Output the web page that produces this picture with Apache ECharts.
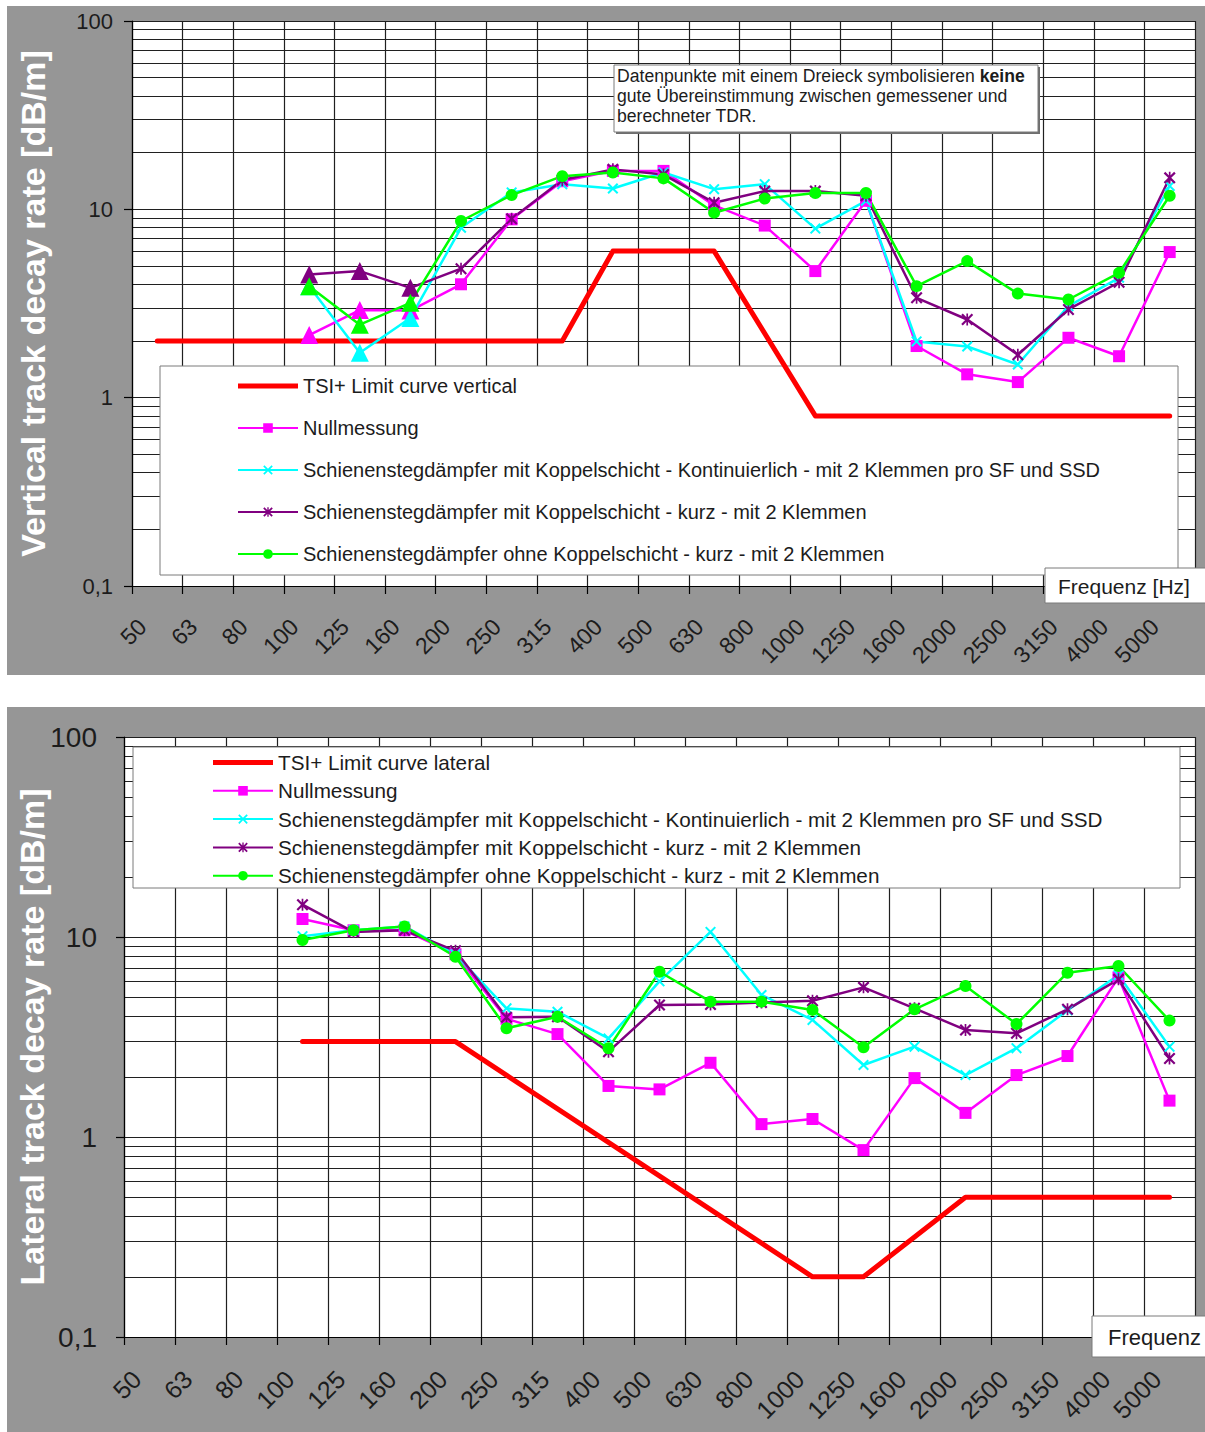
<!DOCTYPE html>
<html>
<head>
<meta charset="utf-8">
<title>Track decay rate</title>
<script src="https://cdn.jsdelivr.net/npm/echarts@6/dist/echarts.min.js"></script>
<style>
  html, body { margin: 0; padding: 0; background: #fff; width: 1205px; height: 1432px; overflow: hidden; }
  .panel { position: absolute; background: #969696; }
  #vertical { left: 7px; top: 6px; width: 1198px; height: 669px; }
  #lateral  { left: 7px; top: 707px; width: 1198px; height: 725px; }
</style>
</head>
<body>
<div id="vertical" class="panel"></div>
<div id="lateral" class="panel"></div>
<script>
// One-third octave band centre frequencies [Hz]
const FREQUENCIES = ['50', '63', '80', '100', '125', '160', '200', '250', '315', '400', '500',
  '630', '800', '1000', '1250', '1600', '2000', '2500', '3150', '4000', '5000'];

// Bands whose vertical values do not agree well between measured and calculated TDR
const POOR_AGREEMENT_BANDS = ['100', '125', '160'];

// ---- Vertical track decay rate [dB/m] ----
// limit curve corner points (straight segments between them)
const limitVertical = [2, 2, 2, 2, 2, 2, 2, 2, 2, 6, 6, 6, null, 0.8, 0.8, 0.8, 0.8, 0.8, 0.8, 0.8, 0.8];
const nullVertical = [null, null, null, 2.15, 2.92, 2.9, 4.0, 8.85, 14.1, 16.0, 16.0, 10.5, 8.2, 4.7, 11.1, 1.88, 1.33, 1.21, 2.08, 1.66, 5.93];
const contVertical = [null, null, null, 3.9, 1.73, 2.65, 7.98, 12.3, 13.6, 12.9, 15.7, 12.8, 13.6, 7.9, 11.1, 1.99, 1.87, 1.5, 3.06, 4.33, 13.3];
const shortVertical = [null, null, null, 4.51, 4.7, 3.83, 4.84, 8.9, 14.3, 16.3, 15.3, 10.85, 12.5, 12.5, 11.8, 3.39, 2.6, 1.69, 2.94, 4.1, 14.7];
const noLayerVertical = [null, null, null, 3.91, 2.44, 3.19, 8.67, 11.9, 15.0, 15.7, 14.6, 9.6, 11.4, 12.2, 12.2, 3.91, 5.31, 3.57, 3.32, 4.6, 11.8];

// ---- Lateral track decay rate [dB/m] ----
const limitLateral = [null, null, null, 3, 3, 3, 3, null, null, null, null, null, null, 0.2, 0.2, null, 0.5, 0.5, 0.5, 0.5, 0.5];
const nullLateral = [null, null, null, 12.3, 10.8, 10.8, 8.2, 3.9, 3.27, 1.8, 1.73, 2.35, 1.16, 1.23, 0.86, 1.97, 1.32, 2.04, 2.54, 6.28, 1.52];
const contLateral = [null, null, null, 10.1, 10.8, 11.3, 8.2, 4.4, 4.23, 3.11, 6.0, 10.6, 5.13, 3.85, 2.29, 2.83, 2.04, 2.78, 4.3, 6.45, 2.83];
const shortLateral = [null, null, null, 14.5, 10.6, 10.8, 8.53, 3.97, 3.99, 2.67, 4.57, 4.6, 4.7, 4.8, 5.6, 4.4, 3.43, 3.3, 4.35, 6.14, 2.47];
const noLayerLateral = [null, null, null, 9.66, 10.8, 11.3, 7.97, 3.5, 3.99, 2.78, 6.7, 4.75, 4.75, 4.32, 2.81, 4.35, 5.69, 3.67, 6.63, 7.16, 3.82];

const NAME_NULL = 'Nullmessung';
const NAME_CONT = 'Schienenstegdämpfer mit Koppelschicht - Kontinuierlich - mit 2 Klemmen pro SF und SSD';
const NAME_SHORT = 'Schienenstegdämpfer mit Koppelschicht - kurz - mit 2 Klemmen';
const NAME_NOLAYER = 'Schienenstegdämpfer ohne Koppelschicht - kurz - mit 2 Klemmen';

const FONT = "'Liberation Sans', Arial, Helvetica, sans-serif";
const TEXT_COLOR = '#1c1c1c';
const GRID_COLOR = '#202020';

// marker shapes
const X_MARK = 'path://M0,1.3L1.3,0L5,3.7L8.7,0L10,1.3L6.3,5L10,8.7L8.7,10L5,6.3L1.3,10L0,8.7L3.7,5Z';
const STAR_MARK = X_MARK + 'M4.3,0L5.7,0L5.7,10L4.3,10Z';
// legend key for the limit curves: a plain thick bar across the 60x12 key box
const BAR_KEY = 'path://M0,3.5L60,3.5L60,8.5L0,8.5Z M0,0L0.01,0L0.01,0.01Z M59.99,11.99L60,11.99L60,12Z';

function limitSeries(name, values) {
  return {
    name, type: 'line', data: values, connectNulls: true,
    symbol: 'none', z: 2,
    lineStyle: { color: '#ff0000', width: 5, cap: 'round', join: 'round' },
    itemStyle: { color: '#ff0000' }
  };
}

function measuredSeries(name, values, color, symbol, size, markPoorBands) {
  const data = values.map((v, i) => {
    if (markPoorBands && v != null && POOR_AGREEMENT_BANDS.includes(FREQUENCIES[i])) {
      return { value: v, symbol: 'triangle', symbolSize: 18 };
    }
    return v;
  });
  return {
    name, type: 'line', data, symbol, symbolSize: size, showAllSymbol: true, z: 3,
    lineStyle: { color, width: 2.5 },
    itemStyle: { color }
  };
}

function buildOption(cfg) {
  return {
    animation: false,
    backgroundColor: 'transparent',
    textStyle: { fontFamily: FONT },
    grid: {
      left: cfg.grid.left, top: cfg.grid.top, width: cfg.grid.width, height: cfg.grid.height,
      containLabel: false, outerBoundsMode: 'none',
      show: true, backgroundColor: '#ffffff', borderWidth: 0
    },
    legend: {
      orient: 'vertical', left: cfg.legend.left, top: cfg.legend.top, padding: 0,
      itemWidth: 60, itemHeight: 12, itemGap: cfg.legend.itemGap,
      textStyle: { fontSize: cfg.legend.fontSize, lineHeight: 20, color: TEXT_COLOR, fontFamily: FONT },
      data: cfg.series.map((s, i) => (i === 0 ? { name: s.name, icon: BAR_KEY } : s.name))
    },
    xAxis: {
      type: 'category', data: FREQUENCIES, boundaryGap: true,
      axisLine: { show: true, lineStyle: { color: '#000', width: 1.2 } },
      axisTick: { show: true, length: 8, lineStyle: { color: '#000', width: 1.2 } },
      splitLine: { show: true, lineStyle: { color: GRID_COLOR, width: 1.2 } },
      axisLabel: {
        rotate: 45, interval: 0, margin: cfg.xLabel.margin, fontSize: cfg.xLabel.size,
        color: TEXT_COLOR, fontFamily: FONT, padding: [0, cfg.xLabel.pad, 0, 0]
      }
    },
    yAxis: {
      type: 'log', logBase: 10, min: 0.1, max: 100,
      axisLine: { show: true, lineStyle: { color: '#000', width: 1.2 } },
      axisTick: { show: true, length: 8, lineStyle: { color: '#000', width: 1.2 } },
      minorTick: { show: false, splitNumber: 9 },
      splitLine: { show: true, lineStyle: { color: GRID_COLOR, width: 1.2 } },
      minorSplitLine: { show: true, lineStyle: { color: GRID_COLOR, width: 1.2 } },
      axisLabel: {
        formatter: v => String(v).replace('.', ','),
        fontSize: cfg.yLabel.size, margin: cfg.yLabel.margin, color: TEXT_COLOR, fontFamily: FONT
      },
      name: cfg.yName, nameLocation: 'middle', nameGap: cfg.yNameGap, nameMoveOverlap: false,
      nameTextStyle: { color: '#ffffff', fontWeight: 'bold', fontSize: cfg.yNameSize, fontFamily: FONT }
    },
    graphic: cfg.graphic,
    series: cfg.series
  };
}

function box(x, y, w, h, shadow) {
  const els = [];
  if (shadow) {
    els.push({ type: 'rect', z: 1, silent: true, shape: { x: x + 2, y: y + 2, width: w, height: h },
      style: { fill: '#6e6e6e' } });
  }
  els.push({ type: 'rect', z: 1, silent: true, shape: { x, y, width: w, height: h },
    style: { fill: '#ffffff', stroke: '#7a7a7a', lineWidth: 1 } });
  return els;
}

function label(text, x, y, size, extra) {
  return Object.assign({
    type: 'text', z: 1, silent: true, x, y,
    style: { text, fill: TEXT_COLOR, font: size + 'px ' + FONT, textVerticalAlign: 'middle' }
  }, extra || {});
}

// ---------- vertical chart ----------
const verticalChart = echarts.init(document.getElementById('vertical'), null, { renderer: 'svg' });
verticalChart.setOption(buildOption({
  grid: { left: 125, top: 15, width: 1063, height: 565 },
  yName: 'Vertical track decay rate [dB/m]', yNameSize: 34, yNameGap: 82,
  yLabel: { size: 22, margin: 19 },
  xLabel: { size: 23, margin: 22, pad: 21 },
  legend: { left: 230, top: 370, itemGap: 22, fontSize: 20 },
  graphic: [].concat(
    box(153, 360, 1018, 209, false),
    box(607, 59, 424, 67, true),
    [
      { type: 'text', z: 1, silent: true, x: 610, y: 70,
        style: { text: 'Datenpunkte mit einem Dreieck symbolisieren {b|keine}', fill: TEXT_COLOR,
          font: '17.6px ' + FONT, textVerticalAlign: 'middle',
          rich: { b: { fontWeight: 'bold', fontSize: 17.6, fontFamily: FONT, fill: TEXT_COLOR } } } },
      label('gute Übereinstimmung zwischen gemessener und', 610, 90, 17.6),
      label('berechneter TDR.', 610, 110, 17.6)
    ],
    box(1038, 562, 170, 35, false),
    [label('Frequenz [Hz]', 1051, 580, 21)]
  ),
  series: [
    limitSeries('TSI+ Limit curve vertical', limitVertical),
    measuredSeries(NAME_NULL, nullVertical, '#ff00ff', 'rect', 12, true),
    measuredSeries(NAME_CONT, contVertical, '#00ffff', X_MARK, 11, true),
    measuredSeries(NAME_SHORT, shortVertical, '#800080', STAR_MARK, 12, true),
    measuredSeries(NAME_NOLAYER, noLayerVertical, '#00ff00', 'circle', 12, true)
  ]
}));

// ---------- lateral chart ----------
const lateralChart = echarts.init(document.getElementById('lateral'), null, { renderer: 'svg' });
lateralChart.setOption(buildOption({
  grid: { left: 117, top: 30, width: 1071, height: 600 },
  yName: 'Lateral track decay rate [dB/m]', yNameSize: 34, yNameGap: 75,
  yLabel: { size: 28, margin: 27 },
  xLabel: { size: 25, margin: 25, pad: 18 },
  legend: { left: 205, top: 45, itemGap: 7.3, fontSize: 20.7 },
  graphic: [].concat(
    box(126, 40, 1047, 141, false),
    box(1085, 609, 120, 41, false),
    [label('Frequenz', 1101, 630, 22)]
  ),
  series: [
    limitSeries('TSI+ Limit curve lateral', limitLateral),
    measuredSeries(NAME_NULL, nullLateral, '#ff00ff', 'rect', 12, false),
    measuredSeries(NAME_CONT, contLateral, '#00ffff', X_MARK, 11, false),
    measuredSeries(NAME_SHORT, shortLateral, '#800080', STAR_MARK, 12, false),
    measuredSeries(NAME_NOLAYER, noLayerLateral, '#00ff00', 'circle', 12, false)
  ]
}));
</script>
</body>
</html>
